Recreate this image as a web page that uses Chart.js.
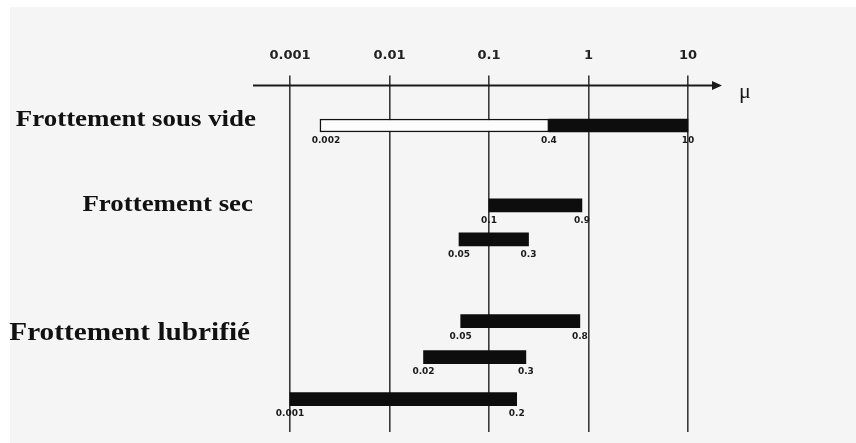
<!DOCTYPE html>
<html lang="fr">
<head>
<meta charset="UTF-8">
<title>Coefficient de frottement</title>
<script src="https://cdn.jsdelivr.net/npm/chart.js"></script>
<style>
    html, body { margin: 0; padding: 0; background: #fff; }
    canvas { display: block; }
</style>
</head>
<body>
<canvas id="frictionChart" width="856" height="443"></canvas>
<script>
// decades on the mu axis
const tickValues = [0.001, 0.01, 0.1, 1, 10];
const tickLabels = ['0.001', '0.01', '0.1', '1', '10'];

// friction regimes, and the row level each name sits on
const groupNames = ['Frottement sous vide', 'Frottement sec', 'Frottement lubrifié'];
const groupRows = [3.5, 12.0, 24.8];

// black ranges, one per row
const barRows = [4.0, 12.0, 15.4, 23.6, 27.2, 31.4];
const barLow = [0.4, 0.1, 0.05, 0.052, 0.022, 0.001];
const barHigh = [10, 0.86, 0.25, 0.82, 0.235, 0.19];
const lowLabels = ['0.4', '0.1', '0.05', '0.05', '0.02', '0.001'];
const highLabels = ['10', '0.9', '0.3', '0.8', '0.3', '0.2'];

// open (white) range for friction under vacuum
const openRows = [4.0];
const openLow = [0.002];
const openHigh = [0.4];
const openLabels = ['0.002'];

const groupFontSizes = [23, 23, 25];
const groupRight = [3, 0, -3];

// paper background, arrow axis, names and end values
const decorations = {
    id: 'decorations',
    beforeDraw(chart) {
        const ctx = chart.ctx;
        ctx.save();
        ctx.fillStyle = '#f5f5f5';
        ctx.fillRect(10, 7, chart.width - 10, chart.height - 7);
        ctx.restore();
    },
    afterDraw(chart) {
        const { ctx, chartArea, scales } = chart;
        const x = scales.x;
        const y = scales.y;
        ctx.save();

        // axis line with arrow head
        const ay = chartArea.top;
        ctx.strokeStyle = '#1a1a1a';
        ctx.fillStyle = '#1a1a1a';
        ctx.lineWidth = 2;
        ctx.beginPath();
        ctx.moveTo(chartArea.left, ay);
        ctx.lineTo(chartArea.right - 8, ay);
        ctx.stroke();
        ctx.beginPath();
        ctx.moveTo(chartArea.right, ay);
        ctx.lineTo(chartArea.right - 10, ay - 4.5);
        ctx.lineTo(chartArea.right - 10, ay + 4.5);
        ctx.closePath();
        ctx.fill();
        ctx.font = '22px "Liberation Serif"';
        ctx.textAlign = 'left';
        ctx.textBaseline = 'alphabetic';
        ctx.fillText('μ', chartArea.right + 17, ay + 12);

        // regime names (the scan is stretched sideways)
        ctx.fillStyle = '#111';
        ctx.textAlign = 'right';
        ctx.textBaseline = 'middle';
        groupNames.forEach((name, i) => {
            ctx.save();
            ctx.translate(chartArea.left + groupRight[i], y.getPixelForValue(groupRows[i]));
            ctx.scale(1.17, 1);
            ctx.font = 'bold ' + groupFontSizes[i] + 'px "Liberation Serif"';
            ctx.fillText(name, 0, 0);
            ctx.restore();
        });

        // small end values under each bar
        ctx.font = 'bold 9px "DejaVu Sans"';
        ctx.textAlign = 'center';
        ctx.fillStyle = '#1a1a1a';
        barRows.forEach((r, i) => {
            const py = y.getPixelForValue(r) + 15;
            ctx.fillText(lowLabels[i], x.getPixelForValue(barLow[i]), py);
            ctx.fillText(highLabels[i], x.getPixelForValue(barHigh[i]), py);
        });
        openRows.forEach((r, i) => {
            const py = y.getPixelForValue(r) + 15;
            ctx.fillText(openLabels[i], x.getPixelForValue(openLow[i]) + 6, py);
        });
        ctx.restore();
    }
};

const ctx = document.getElementById('frictionChart').getContext('2d');
const frictionChart = new Chart(ctx, {
    type: 'bar',
    data: {
        datasets: [
            {
                label: 'open',
                data: openRows.map((r, i) => ({ x: [openLow[i], openHigh[i]], y: r })),
                backgroundColor: '#fcfcfc',
                borderColor: '#111',
                borderWidth: 1.5,
                borderSkipped: false,
            },
            {
                label: 'range',
                data: barRows.map((r, i) => ({ x: [barLow[i], barHigh[i]], y: r })),
                backgroundColor: '#0d0d0d',
                borderWidth: 0,
            }
        ],
    },
    options: {
        indexAxis: 'y',
        responsive: false,
        animation: false,
        barThickness: 13,
        grouped: false,
        layout: {
            padding: { left: 253, right: 134, top: 36, bottom: 11 },
        },
        plugins: {
            legend: { display: false },
            tooltip: { enabled: false },
        },
        scales: {
            x: {
                type: 'logarithmic',
                position: 'top',
                min: 0.000425,
                max: 22,
                z: 1,
                afterBuildTicks: (scale) => {
                    scale.ticks = tickValues.map(v => ({ value: v }));
                },
                ticks: {
                    callback: (value, index) => tickLabels[index],
                    font: { family: 'DejaVu Sans', weight: 'bold', size: 13 },
                    color: '#222',
                    padding: 12,
                    autoSkip: false,
                    maxRotation: 0,
                },
                grid: {
                    color: '#3a3a3a',
                    lineWidth: 1.6,
                    tickLength: 10,
                },
                border: { display: false },
            },
            y: {
                type: 'linear',
                display: false,
                offset: false,
                min: 0,
                max: 34.7,
                reverse: true,
            },
        },
    },
    plugins: [decorations],
});
</script>
</body>
</html>
